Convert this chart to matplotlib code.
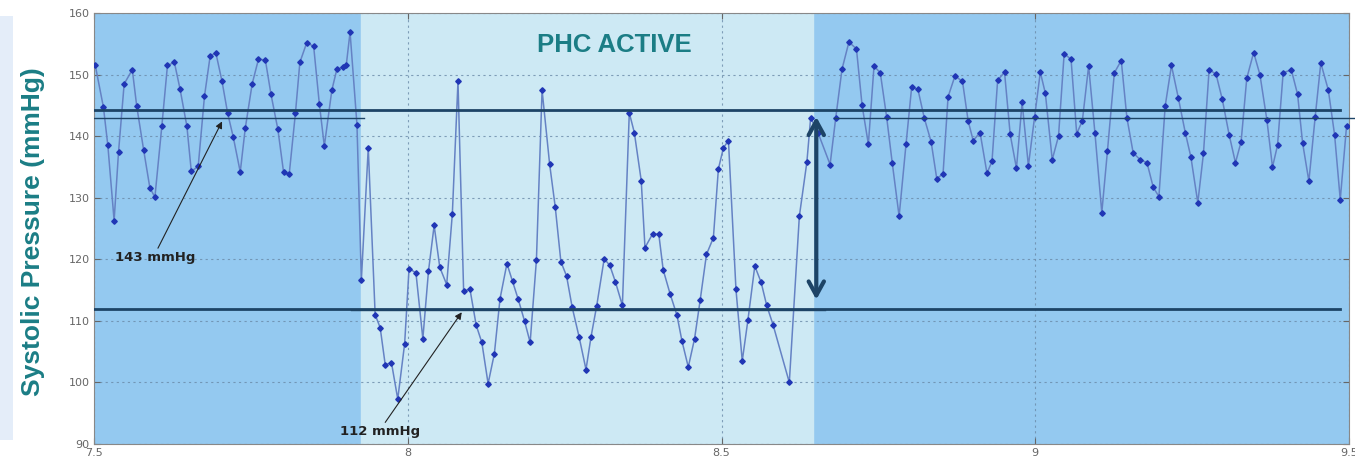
import matplotlib.pyplot as plt
from matplotlib.patches import Rectangle

# Tiempo (min) y presion sistolica (mmHg)
tiempo = [7.502, 7.515, 7.522, 7.532, 7.539, 7.548, 7.561, 7.568, 7.579, 7.589,
          7.597, 7.608, 7.617, 7.628, 7.637, 7.648, 7.655, 7.666, 7.676, 7.685,
          7.694, 7.704, 7.713, 7.722, 7.733, 7.741, 7.752, 7.762, 7.773, 7.782,
          7.793, 7.802, 7.811, 7.821, 7.828, 7.839, 7.850, 7.859, 7.867, 7.879,
          7.887, 7.896, 7.902, 7.908, 7.919, 7.926, 7.937, 7.948, 7.956, 7.964,
          7.974, 7.984, 7.995, 8.002, 8.013, 8.024, 8.033, 8.042, 8.051, 8.062,
          8.071, 8.080, 8.089, 8.099, 8.109, 8.118, 8.128, 8.138, 8.147, 8.158,
          8.167, 8.176, 8.186, 8.195, 8.205, 8.214, 8.226, 8.235, 8.244, 8.253,
          8.262, 8.273, 8.284, 8.292, 8.301, 8.313, 8.322, 8.331, 8.342, 8.353,
          8.361, 8.372, 8.378, 8.390, 8.400, 8.407, 8.418, 8.429, 8.437, 8.447,
          8.457, 8.466, 8.476, 8.487, 8.495, 8.503, 8.511, 8.523, 8.533, 8.542,
          8.553, 8.563, 8.572, 8.582, 8.608, 8.624, 8.636, 8.642, 8.654, 8.673,
          8.682, 8.692, 8.703, 8.715, 8.724, 8.734, 8.743, 8.753, 8.763, 8.772,
          8.783, 8.794, 8.803, 8.813, 8.823, 8.834, 8.843, 8.853, 8.861, 8.872,
          8.884, 8.893, 8.901, 8.912, 8.923, 8.931, 8.940, 8.951, 8.960, 8.970,
          8.979, 8.989, 8.999, 9.008, 9.016, 9.027, 9.037, 9.046, 9.057, 9.066,
          9.075, 9.085, 9.095, 9.106, 9.115, 9.126, 9.137, 9.146, 9.156, 9.167,
          9.178, 9.188, 9.197, 9.207, 9.217, 9.228, 9.239, 9.248, 9.259, 9.268,
          9.277, 9.288, 9.298, 9.309, 9.319, 9.328, 9.337, 9.348, 9.358, 9.369,
          9.378, 9.386, 9.395, 9.408, 9.418, 9.426, 9.436, 9.446, 9.455, 9.467,
          9.477, 9.486, 9.496]

presion = [151.5, 144.7, 138.5, 126.3, 137.4, 148.5, 150.8, 144.9, 137.8, 131.6,
           130.1, 141.6, 151.5, 152.0, 147.7, 141.6, 134.3, 135.1, 146.5, 153.0,
           153.6, 148.9, 143.7, 139.8, 134.2, 141.3, 148.5, 152.5, 152.4, 146.8,
           141.1, 134.2, 133.8, 143.8, 152.0, 155.2, 154.6, 145.3, 138.4, 147.5,
           150.9, 151.2, 151.6, 156.9, 141.9, 116.6, 138.1, 111.0, 108.9, 102.9,
           103.2, 97.3, 106.3, 118.5, 117.8, 107.1, 118.1, 125.5, 118.7, 115.9,
           127.4, 148.9, 114.8, 115.2, 109.3, 106.5, 99.8, 104.7, 113.6, 119.3,
           116.4, 113.5, 110.0, 106.5, 119.9, 147.5, 135.5, 128.5, 119.6, 117.3,
           112.2, 107.4, 102.1, 107.4, 112.4, 120.1, 119.0, 116.3, 112.5, 143.8,
           140.6, 132.8, 121.9, 124.1, 124.1, 118.3, 114.4, 110.9, 106.7, 102.5,
           107.1, 113.4, 120.8, 123.5, 134.7, 138.1, 139.3, 115.1, 103.5, 110.1,
           118.9, 116.3, 112.5, 109.4, 100.0, 127.0, 135.8, 143.0, 140.5, 135.4,
           143.0, 150.9, 155.3, 154.2, 145.0, 138.7, 151.4, 150.3, 143.2, 135.7,
           127.0, 138.7, 148.0, 147.6, 143.0, 139.1, 133.1, 133.9, 146.4, 149.8,
           148.9, 142.5, 139.3, 140.6, 134.0, 135.9, 149.1, 150.4, 140.3, 134.8,
           145.5, 135.2, 143.2, 150.4, 147.0, 136.2, 140.0, 153.4, 152.5, 140.4,
           142.5, 151.4, 140.6, 127.6, 137.6, 150.3, 152.3, 143.0, 137.3, 136.2,
           135.7, 131.7, 130.2, 144.9, 151.5, 146.2, 140.6, 136.6, 129.2, 137.2,
           150.8, 150.1, 146.0, 140.2, 135.7, 139.1, 149.4, 153.6, 150.0, 142.7,
           135.0, 138.5, 150.3, 150.8, 146.8, 138.9, 132.7, 143.1, 151.9, 147.5,
           140.2, 129.7, 141.6]

# Niveles de referencia y periodo con PHC activo
nivel_alto = 144.3
nivel_bajo = 112.0
media_base = 143.0
media_phc = 111.7
phc_inicio = 7.925
phc_fin = 8.645

azul_oscuro = "#1d4466"
teal = "#1b7d85"

fig = plt.figure(figsize=(13.55, 4.62), dpi=100)
fig.patches.append(Rectangle((0, 0.048), 0.0095, 0.918, transform=fig.transFigure,
                             facecolor="#e4edf9", edgecolor="none"))
ax = fig.add_axes([0.0694, 0.039, 0.9262, 0.9326])

# Fondo: azul en reposo, claro con PHC activo
ax.set_facecolor("#94c9f0")
ax.axvspan(phc_inicio, phc_fin, color="#cde9f4", zorder=0)

ax.plot(tiempo, presion, color="#6582c4", linewidth=1.1, marker="D",
        markersize=2.8, markerfacecolor="#2036b5", markeredgecolor="#2036b5", zorder=3)

# Lineas de referencia
ax.axhline(nivel_alto, xmin=0.0, xmax=0.993, color=azul_oscuro, linewidth=2, zorder=4)
ax.axhline(nivel_bajo, xmin=0.0, xmax=0.993, color=azul_oscuro, linewidth=2, zorder=4)
ax.plot([7.5, 7.93], [media_base, media_base], color=azul_oscuro, linewidth=1, zorder=4)
ax.plot([8.68, 9.51], [media_base, media_base], color=azul_oscuro, linewidth=1,
        zorder=4, clip_on=False)
ax.plot([7.91, 8.665], [media_phc, media_phc], color=azul_oscuro, linewidth=1, zorder=4)

# Flecha doble entre niveles
ax.annotate("", xy=(8.651, 143.6), xytext=(8.651, 113.0),
            arrowprops=dict(arrowstyle="<->,head_length=1.0,head_width=0.55",
                            color=azul_oscuro, lw=3), zorder=5)

ax.annotate("143 mmHg", xy=(7.704, 142.4), xytext=(7.533, 120.3),
            fontsize=9.5, fontweight="bold", color="#222222", va="center",
            arrowprops=dict(arrowstyle="-|>", color="#222222", lw=0.8,
                            shrinkA=0, shrinkB=0, mutation_scale=10,
                            relpos=(0.52, 1.0)))
ax.annotate("112 mmHg", xy=(8.086, 111.4), xytext=(7.892, 92.0),
            fontsize=9.5, fontweight="bold", color="#222222", va="center",
            arrowprops=dict(arrowstyle="-|>", color="#222222", lw=0.8,
                            shrinkA=0, shrinkB=0, mutation_scale=10,
                            relpos=(0.54, 1.0)))

ax.text(8.33, 154.9, "PHC ACTIVE", fontsize=18.5, fontweight="bold", color=teal,
        ha="center", va="center", family="Liberation Sans")

# Ejes
ax.set_xlim(7.5, 9.5)
ax.set_ylim(90, 160)
ax.set_xticks([7.5, 8, 8.5, 9, 9.5])
ax.set_xticklabels(["7.5", "8", "8.5", "9", "9.5"])
ax.set_yticks(range(90, 161, 10))
ax.grid(True, linestyle=(0, (2, 3)), color="#6a8aa8", linewidth=0.8, alpha=0.8)
ax.tick_params(direction="in", length=4, labelsize=8, labelcolor="#666666",
               colors="#666666", right=True, top=True, pad=3)
for s in ax.spines.values():
    s.set_color("#888888")

fig.text(0.0244, 0.498, "Systolic Pressure (mmHg)", rotation=90, fontsize=19,
         fontweight="bold", color=teal, ha="center", va="center",
         family="Liberation Sans")

plt.savefig("out.png", dpi=100)
